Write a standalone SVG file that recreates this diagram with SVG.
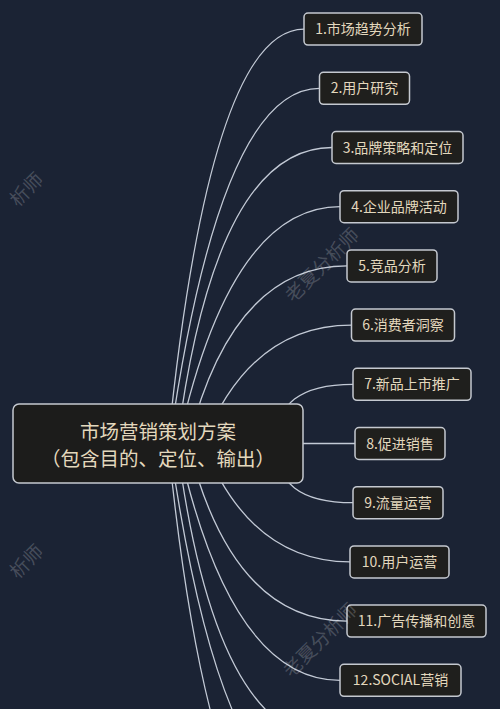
<svg xmlns="http://www.w3.org/2000/svg" width="500" height="709" viewBox="0 0 500 709">
<style>
.bg{fill:#1b2334}
.wm{font-family:"Noto Sans CJK SC","Noto Sans",sans-serif;font-size:19px;fill:#ffffff;fill-opacity:0.2;text-anchor:middle}
.conn path{fill:none;stroke:#c3cad6;stroke-width:1.3}
.node rect{fill:#1f1f1d;stroke:#c5c9d0;stroke-width:1.5}
.node text{font-family:"Noto Sans CJK SC","Noto Sans",sans-serif;font-size:14px;fill:#e3d8bd;text-anchor:middle}
#root rect{fill:#1c1c1b;stroke:#c5c9d0;stroke-width:1.5}
#root text{font-family:"Noto Sans CJK SC","Noto Sans",sans-serif;font-size:19.5px;fill:#e3d8bd;text-anchor:middle}
</style>
<rect class="bg" x="0" y="0" width="500" height="709"/>
<g id="connectors" class="conn">
<path d="M168,443.5 Q210,29.1 304,29.1"/>
<path d="M169.5,443.5 Q220,88.3 319.5,88.3"/>
<path d="M177,443.5 Q215,147.5 332,147.5"/>
<path d="M178,443.5 Q230,206.7 340,206.7"/>
<path d="M188,443.5 Q232,265.9 347,265.9"/>
<path d="M203,443.5 Q250,325.1 351.5,325.1"/>
<path d="M277,443.5 Q274,384.3 353,384.3"/>
<path d="M280,443.5 H355"/>
<path d="M277,443.5 Q274,502.7 353,502.7"/>
<path d="M203,443.5 Q250,561.9 350,561.9"/>
<path d="M188,443.5 Q232,621.1 347,621.1"/>
<path d="M178,443.5 Q230,680.3 340,680.3"/>
<path d="M177,443.5 Q215,739.5 332,739.5"/>
<path d="M169.5,443.5 Q220,798.7 319.5,798.7"/>
<path d="M168,443.5 Q210,857.9 304,857.9"/>
</g>
<g id="root">
<rect x="13" y="404" width="290" height="79" rx="6"/>
<text x="158" y="439">市场营销策划方案</text>
<text x="158" y="466">（包含目的、定位、输出）</text>
</g>
<g id="n1" class="node"><rect x="304" y="13.1" width="118" height="32" rx="4"/><text x="363" y="34">1.市场趋势分析</text></g>
<g id="n2" class="node"><rect x="319.5" y="72.3" width="90" height="32" rx="4"/><text x="364.5" y="93.3">2.用户研究</text></g>
<g id="n3" class="node"><rect x="332" y="131.5" width="131" height="32" rx="4"/><text x="397.5" y="152.5">3.品牌策略和定位</text></g>
<g id="n4" class="node"><rect x="340" y="190.7" width="118" height="32" rx="4"/><text x="399" y="211.7">4.企业品牌活动</text></g>
<g id="n5" class="node"><rect x="347" y="249.9" width="90" height="32" rx="4"/><text x="392" y="270.9">5.竞品分析</text></g>
<g id="n6" class="node"><rect x="351.5" y="309.1" width="103" height="32" rx="4"/><text x="403" y="330.1">6.消费者洞察</text></g>
<g id="n7" class="node"><rect x="353" y="368.3" width="118" height="32" rx="4"/><text x="412" y="389.3">7.新品上市推广</text></g>
<g id="n8" class="node"><rect x="355" y="427.5" width="90" height="32" rx="4"/><text x="400" y="448.5">8.促进销售</text></g>
<g id="n9" class="node"><rect x="353" y="486.7" width="90" height="32" rx="4"/><text x="398" y="507.7">9.流量运营</text></g>
<g id="n10" class="node"><rect x="350" y="545.9" width="99" height="32" rx="4"/><text x="399.5" y="566.9">10.用户运营</text></g>
<g id="n11" class="node"><rect x="347" y="605.1" width="139" height="32" rx="4"/><text x="416.5" y="626.1">11.广告传播和创意</text></g>
<g id="n12" class="node"><rect x="340" y="664.3" width="121" height="32" rx="4"/><text x="400.5" y="685.3">12.SOCIAL营销</text></g>
<g id="watermarks">
<text class="wm" transform="translate(27,190) rotate(-45)" y="6">析师</text>
<text class="wm" transform="translate(322,265) rotate(-45)" y="7">老夏分析师</text>
<text class="wm" transform="translate(27,562) rotate(-45)" y="6">析师</text>
<text class="wm" transform="translate(320,640) rotate(-45)" y="7">老夏分析师</text>
</g>
</svg>
